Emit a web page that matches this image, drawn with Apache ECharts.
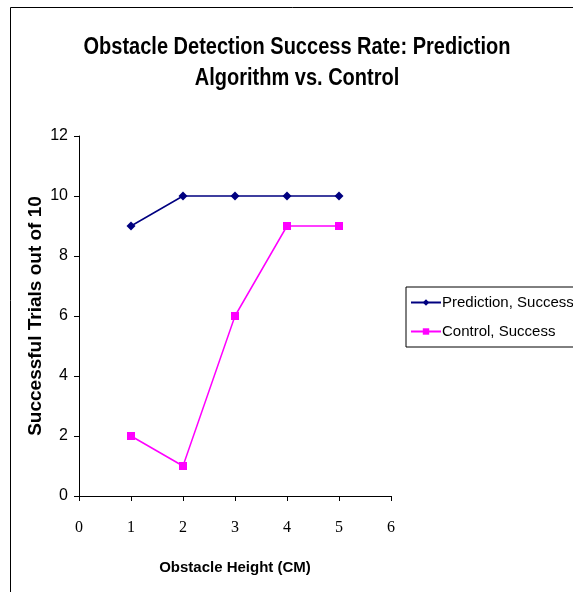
<!DOCTYPE html>
<html><head><meta charset="utf-8">
<script src="https://cdn.jsdelivr.net/npm/echarts@6/dist/echarts.min.js"></script>
<style>html,body{margin:0;padding:0;background:#fff}#c{width:573px;height:592px}</style>
</head><body><div id="c"></div>
<script>
const heights = [1, 2, 3, 4, 5];
const predictionSuccess = [9, 10, 10, 10, 10];
const controlSuccess = [2, 1, 6, 9, 9];
const seriesNames = ['Prediction, Success', 'Control, Success'];
const titleText = 'Obstacle Detection Success Rate: Prediction\nAlgorithm vs. Control';

const chart = echarts.init(document.getElementById('c'));
const pair = (xs, ys) => xs.map((x, i) => [x, ys[i]]);
const sans = '"Liberation Sans", Arial, sans-serif';
chart.setOption({
  animation: false,
  graphic: [
    {type: 'rect', shape: {x: 10.5, y: 7.5, width: 700, height: 700}, style: {fill: 'none', stroke: '#000', lineWidth: 1}, silent: true},
    {type: 'text', x: 297, y: 32, scaleX: 0.87, silent: true,
     style: {text: titleText, textAlign: 'center', textVerticalAlign: 'top', lineHeight: 31,
             font: 'bold 23px ' + sans, fill: '#000'}}
  ],
  legend: {
    orient: 'vertical', left: 406, top: 287, itemGap: 14,
    itemWidth: 30, itemHeight: 8,
    borderColor: '#000', borderWidth: 1, padding: [8, 6, 8, 4],
    textStyle: {fontFamily: sans, fontSize: 15, color: '#000', padding: [0, 0, 0, -4]},
    data: seriesNames
  },
  grid: {left: 79, top: 136, width: 312, height: 360, containLabel: false},
  xAxis: {
    type: 'value', min: 0, max: 6, interval: 1,
    name: 'Obstacle Height (CM)', nameLocation: 'middle', nameGap: 64,
    nameTextStyle: {fontFamily: sans, fontWeight: 'bold', fontSize: 15, color: '#000'},
    axisLine: {lineStyle: {color: '#000'}},
    axisTick: {length: 5, lineStyle: {color: '#000'}},
    axisLabel: {fontFamily: '"Liberation Serif", "DejaVu Serif", serif', fontSize: 16, color: '#000', margin: 24},
    splitLine: {show: false}
  },
  yAxis: {
    type: 'value', min: 0, max: 12, interval: 2,
    name: 'Successful Trials out of 10', nameLocation: 'middle', nameGap: 34, nameMoveOverlap: false,
    nameTextStyle: {fontFamily: sans, fontWeight: 'bold', fontSize: 19, color: '#000'},
    axisLine: {show: true, lineStyle: {color: '#000'}},
    axisTick: {show: true, length: 5, lineStyle: {color: '#000'}},
    axisLabel: {fontFamily: sans, fontSize: 16, color: '#000', margin: 11},
    splitLine: {show: false}
  },
  series: [
    {name: seriesNames[0], type: 'line', data: pair(heights, predictionSuccess),
     symbol: 'diamond', symbolSize: 9, lineStyle: {color: '#000080', width: 1.5},
     itemStyle: {color: '#000080'}},
    {name: seriesNames[1], type: 'line', data: pair(heights, controlSuccess),
     symbol: 'rect', symbolSize: 8, lineStyle: {color: '#FF00FF', width: 1.5},
     itemStyle: {color: '#FF00FF'}}
  ]
});
</script></body></html>
